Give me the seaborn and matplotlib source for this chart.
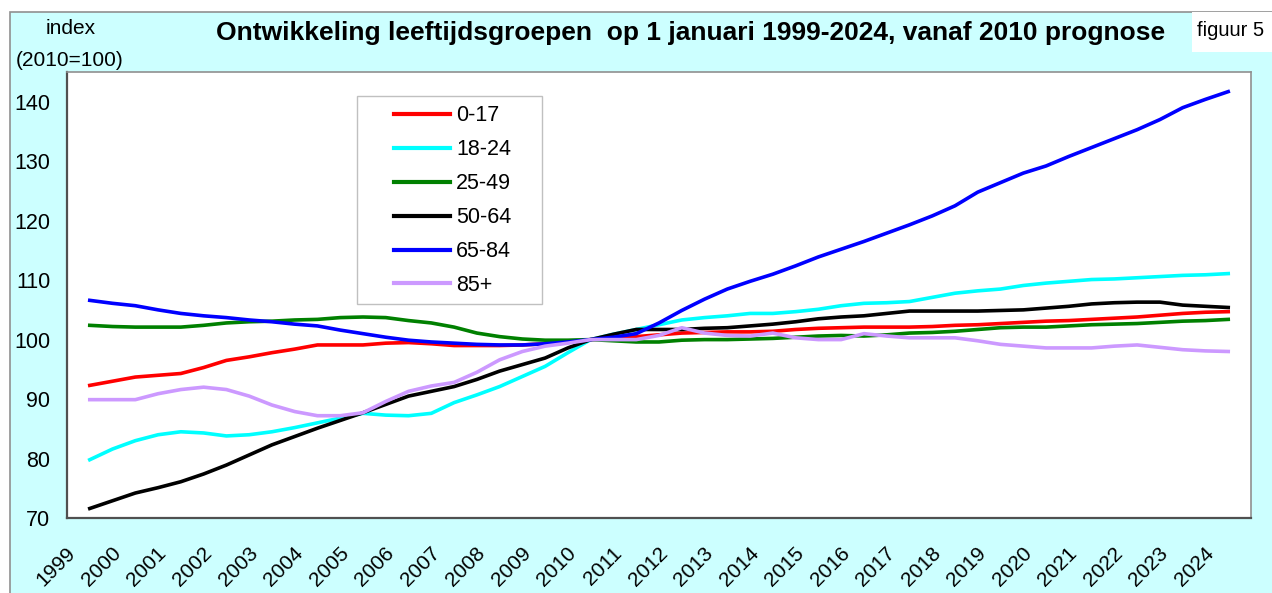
import matplotlib
matplotlib.use('Agg')
import matplotlib.pyplot as plt
from matplotlib.patches import Rectangle
import numpy as np
import pandas as pd
import seaborn as sns

# half-year points, 1 januari 1999 .. 2024
periods = np.arange(1999, 2024.01, 0.5)
years = list(range(1999, 2025))
groups = ['0-17', '18-24', '25-49', '50-64', '65-84', '85+']
colors = ['#FF0000', '#00FFFF', '#008000', '#000000', '#0000FF', '#CC99FF']

g_0_17 = [92.3, 93.0, 93.7, 94.0, 94.3, 95.3, 96.5, 97.1, 97.8, 98.4,
          99.1, 99.1, 99.1, 99.4, 99.5, 99.3, 99.0, 99.0, 99.0, 99.1,
          99.3, 99.6, 100.0, 100.2, 100.5, 100.8, 101.1, 101.2, 101.3, 101.3,
          101.4, 101.7, 101.9, 102.0, 102.1, 102.1, 102.1, 102.2, 102.4, 102.5,
          102.7, 102.9, 103.1, 103.2, 103.4, 103.6, 103.8, 104.1, 104.4, 104.6,
          104.7]
g_18_24 = [79.8, 81.6, 83.0, 84.0, 84.5, 84.3, 83.8, 84.0, 84.5, 85.2,
           86.0, 86.8, 87.6, 87.3, 87.2, 87.6, 89.4, 90.7, 92.1, 93.8,
           95.5, 97.8, 100.0, 100.9, 101.7, 102.5, 103.3, 103.7, 104.0, 104.4,
           104.4, 104.7, 105.1, 105.7, 106.1, 106.2, 106.4, 107.1, 107.8, 108.2,
           108.5, 109.1, 109.5, 109.8, 110.1, 110.2, 110.4, 110.6, 110.8, 110.9,
           111.1]
g_25_49 = [102.4, 102.2, 102.1, 102.1, 102.1, 102.4, 102.8, 103.0, 103.1, 103.3,
           103.4, 103.7, 103.8, 103.7, 103.2, 102.8, 102.1, 101.1, 100.5, 100.1,
           99.9, 99.9, 100.0, 99.8, 99.6, 99.6, 99.9, 100.0, 100.0, 100.1,
           100.2, 100.4, 100.6, 100.7, 100.6, 100.8, 101.1, 101.2, 101.4, 101.7,
           102.0, 102.1, 102.1, 102.3, 102.5, 102.6, 102.7, 102.9, 103.1, 103.2,
           103.4]
g_50_64 = [71.6, 72.9, 74.2, 75.1, 76.1, 77.4, 78.9, 80.6, 82.3, 83.7,
           85.1, 86.4, 87.7, 89.1, 90.5, 91.3, 92.1, 93.3, 94.7, 95.8,
           96.9, 98.6, 100.0, 100.9, 101.7, 101.7, 101.7, 101.9, 102.0, 102.3,
           102.6, 103.0, 103.5, 103.8, 104.0, 104.4, 104.8, 104.8, 104.8, 104.8,
           104.9, 105.0, 105.3, 105.6, 106.0, 106.2, 106.3, 106.3, 105.8, 105.6,
           105.4]
g_65_84 = [106.6, 106.1, 105.7, 105.0, 104.4, 104.0, 103.7, 103.3, 103.0, 102.6,
           102.3, 101.6, 101.0, 100.4, 99.9, 99.6, 99.4, 99.2, 99.1, 99.1,
           99.3, 99.6, 100.0, 100.4, 101.0, 102.8, 104.9, 106.8, 108.5, 109.8,
           111.0, 112.4, 113.9, 115.2, 116.5, 117.9, 119.3, 120.8, 122.5, 124.8,
           126.4, 128.0, 129.2, 130.8, 132.3, 133.8, 135.3, 137.0, 139.0, 140.4,
           141.7]
g_85plus = [89.9, 89.9, 89.9, 90.9, 91.6, 92.0, 91.6, 90.5, 89.0, 87.9,
            87.2, 87.2, 87.7, 89.6, 91.3, 92.2, 92.8, 94.5, 96.6, 98.0,
            98.9, 99.4, 100.0, 100.0, 100.0, 100.7, 102.0, 101.1, 100.7, 100.6,
            101.1, 100.3, 100.0, 100.0, 101.0, 100.6, 100.3, 100.3, 100.3, 99.8,
            99.2, 98.9, 98.6, 98.6, 98.6, 98.9, 99.1, 98.7, 98.3, 98.1,
            98.0]

series = [g_0_17, g_18_24, g_25_49, g_50_64, g_65_84, g_85plus]
df = pd.DataFrame({
    'jaar': np.tile(periods, len(groups)),
    'index': np.concatenate(series),
    'groep': np.repeat(groups, len(periods)),
})

plt.rcParams['font.family'] = ['Liberation Sans', 'DejaVu Sans']

W, H = 1272, 593
fig = plt.figure(figsize=(W / 100, H / 100), dpi=100, facecolor='white')
# light cyan chart panel, behind the axes
fig.patches.append(Rectangle((10 / W, -0.01), 1.01, 1 - 12 / H + 0.01,
                             transform=fig.transFigure, facecolor='#CCFFFF',
                             edgecolor='#909090', lw=1.2, zorder=-10))
# white box for the figure number
fig.patches.append(Rectangle((1192 / W, 1 - 52 / H), 80 / W, 40 / H,
                             transform=fig.transFigure, facecolor='white',
                             edgecolor='none', zorder=-5))

ax = fig.add_axes([67 / W, 1 - 518 / H, (1251 - 67) / W, (518 - 72) / H])
ax.set_zorder(1)
ax.set_facecolor('white')

sns.lineplot(data=df, x='jaar', y='index', hue='groep', palette=colors,
             linewidth=2.6, ax=ax, legend=True)

ax.set_xlim(1998.5, 2024.5)
ax.set_ylim(70, 145)
ax.set_yticks([70, 80, 90, 100, 110, 120, 130, 140])
# labels sit a little left of the category centre, as in the original
ax.set_xticks([y - 0.38 for y in years])
ax.set_xticklabels([str(y) for y in years], rotation=45, ha='right',
                   va='center', rotation_mode='anchor', fontsize=15)
ax.tick_params(axis='x', length=0, pad=23)
ax.tick_params(axis='y', length=0, pad=12, labelsize=15.5)
ax.set_xlabel('')
ax.set_ylabel('')
for side in ['top', 'right']:
    ax.spines[side].set_color('#909090')
    ax.spines[side].set_linewidth(1.2)
for side in ['left', 'bottom']:
    ax.spines[side].set_color('#505050')
    ax.spines[side].set_linewidth(1.6)

# legend with its own square frame
ax.add_patch(Rectangle((0.2449, 0.4798), 0.1563, 0.4664, transform=ax.transAxes,
                       facecolor='white', edgecolor='#C0C0C0', lw=1.0, zorder=3))
leg = ax.legend(loc='upper left', bbox_to_anchor=(0.2762, 0.925), frameon=False,
                fontsize=15.5, handlelength=2.6, handletextpad=0.28,
                labelspacing=0.6, borderpad=0, borderaxespad=0)
leg.set_zorder(4)
for h in leg.get_lines():
    h.set_linewidth(3)

fig.text(691 / W, 1 - 33 / H,
         'Ontwikkeling leeftijdsgroepen  op 1 januari 1999-2024, vanaf 2010 prognose',
         ha='center', va='center', fontsize=19, fontweight='bold')
fig.text(71 / W, 1 - 28 / H, 'index', ha='center', va='center', fontsize=15)
fig.text(70 / W, 1 - 60 / H, '(2010=100)', ha='center', va='center', fontsize=15)
fig.text(1197 / W, 1 - 30 / H, 'figuur 5', ha='left', va='center', fontsize=14.5)

fig.savefig('out.png', dpi=100, facecolor='white')
